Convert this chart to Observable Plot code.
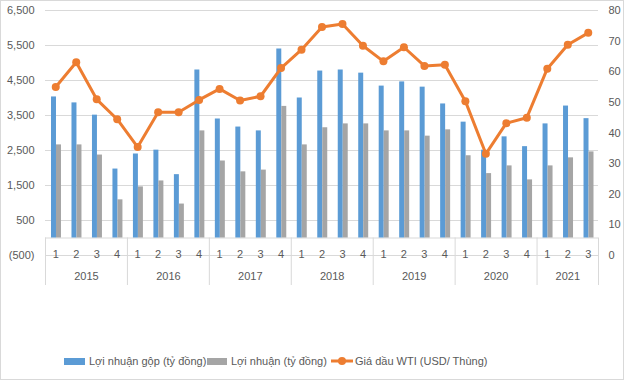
<!DOCTYPE html>
<html><head><meta charset="utf-8">
<script src="https://cdn.jsdelivr.net/npm/d3@7"></script>
<script src="https://cdn.jsdelivr.net/npm/@observablehq/plot@0.6"></script>
<style>
html,body{margin:0;padding:0;background:#fff;}
#wrap{position:relative;width:624px;height:380px;font-family:"Liberation Sans",Arial,sans-serif;color:#595959;overflow:hidden;}
#frame{position:absolute;left:0;top:0;width:622px;height:378px;border:1px solid #d9d9d9;pointer-events:none;}
#legend{position:absolute;left:0;top:352px;width:624px;height:18px;font-size:11px;}
.item{position:absolute;top:0;height:18px;display:flex;align-items:center;white-space:nowrap;}
.sw{display:inline-block;height:7px;margin-right:4px;}
</style></head>
<body><div id="wrap"><div id="chart"></div><div id="legend"></div><div id="frame"></div></div>
<script>
const years = ["2015","2016","2017","2018","2019","2020","2021"];
const quartersPerYear = [4,4,4,4,4,4,3];
const grossProfit = [4030,3860,3510,1970, 2400,2510,1810,4800, 3400,3170,3060,5400, 4000,4770,4800,4710, 4340,4460,4310,3830, 3310,2510,2890,2610, 3260,3770,3410];
const netProfit   = [2660,2660,2370,1090, 1460,1630,970,3060, 2200,1890,1940,3760, 2660,3150,3260,3260, 3060,3060,2910,3090, 2350,1840,2060,1660, 2060,2290,2460];
const wtiPrice    = [55.0,63.1,51.0,44.5, 35.4,46.8,46.8,50.8, 54.4,50.6,52.0,61.2, 67.2,74.6,75.6,68.5, 63.4,68.0,61.9,62.3, 50.4,33.2,43.2,45.0, 61.0,68.8,72.7];
const leftTicks  = [-500,500,1500,2500,3500,4500,5500,6500];
const rightTicks = [0,10,20,30,40,50,60,70,80];
const seriesNames = ["Lợi nhuận gộp (tỷ đồng)","Lợi nhuận (tỷ đồng)","Giá dầu WTI (USD/ Thùng)"];
const colors = ["#5B9BD5","#A5A5A5","#ED7D31"];

// rows
const rows = [];
let idx = 0;
years.forEach((y, yi) => {
  for (let q = 1; q <= quartersPerYear[yi]; q++) {
    rows.push({i: idx, year: y, q: String(q), gross: grossProfit[idx], net: netProfit[idx], wti: wtiPrice[idx]});
    idx++;
  }
});
const yearRows = years.map(y => {
  const r = rows.filter(d => d.year === y);
  return {year: y, first: r[0].i, last: r[r.length-1].i, mid: (r[0].i + r[r.length-1].i) / 2};
});
const seps = yearRows.map(d => d.first - 0.5).concat([rows.length - 0.5]);

const yMin = -500, yMax = 6500, rMax = 80;
const toLeft = v => yMin + v * (yMax - yMin) / rMax;
const fmtLeft = d => d < 0 ? "(" + d3.format(",")(-d) + ")" : d3.format(",")(d);

const chart = Plot.plot({
  width: 624, height: 340,
  marginTop: 10, marginBottom: 85, marginLeft: 45, marginRight: 26,
  style: {fontFamily: '"Liberation Sans", Arial, sans-serif', fontSize: "11px", color: "#595959", background: "transparent"},
  x: {domain: [-0.5, rows.length - 0.5], axis: null},
  y: {domain: [yMin, yMax], axis: null},
  marks: [
    Plot.ruleY(leftTicks, {stroke: "#d9d9d9", strokeWidth: 1}),
    Plot.ruleY([0], {stroke: "#d9d9d9", strokeWidth: 1}),
    Plot.ruleX(seps, {x: d => d, y1: 0, y2: yMin, insetBottom: -30, stroke: "#d9d9d9"}),
    Plot.rectY(rows, {x1: d => d.i - 0.5, x2: d => d.i + 0.5, y1: 0, y2: "gross", fill: colors[0], insetLeft: 6, insetRight: 9.5}),
    Plot.rectY(rows, {x1: d => d.i - 0.5, x2: d => d.i + 0.5, y1: 0, y2: "net", fill: colors[1], insetLeft: 11, insetRight: 4.5}),
    Plot.line(rows, {x: "i", y: d => toLeft(d.wti), stroke: colors[2], strokeWidth: 3, strokeLinejoin: "round"}),
    Plot.dot(rows, {x: "i", y: d => toLeft(d.wti), r: 4, fill: colors[2], stroke: "none"}),
    Plot.text(rows, {x: "i", y: yMin, text: "q", dy: -1, fill: "#595959"}),
    Plot.text(yearRows, {x: "mid", y: yMin, text: "year", dy: 21, fill: "#595959"}),
    Plot.axisY(leftTicks, {anchor: "left", tickFormat: fmtLeft, tickSize: 0, tickPadding: 11, label: null}),
    Plot.axisY(rightTicks.map(toLeft), {anchor: "right", tickFormat: d => String(Math.round((d - yMin) * rMax / (yMax - yMin))), tickSize: 0, tickPadding: 10, label: null})
  ]
});
document.getElementById("chart").appendChild(chart);

// legend
const legend = document.getElementById("legend");
const lx = [64, 207, 331];
seriesNames.forEach((name, k) => {
  const it = document.createElement("div");
  it.className = "item";
  it.style.left = lx[k] + "px";
  if (k < 2) {
    const sw = document.createElement("span");
    sw.className = "sw";
    sw.style.width = (k === 0 ? 21 : 20) + "px";
    sw.style.background = colors[k];
    it.appendChild(sw);
  } else {
    const sw = document.createElementNS("http://www.w3.org/2000/svg", "svg");
    sw.setAttribute("width", 22); sw.setAttribute("height", 10);
    sw.style.marginRight = "2px";
    sw.innerHTML = `<line x1="0" y1="5" x2="22" y2="5" stroke="${colors[2]}" stroke-width="3"/><circle cx="11" cy="5" r="4" fill="${colors[2]}"/>`;
    it.appendChild(sw);
  }
  const t = document.createElement("span");
  t.textContent = name;
  it.appendChild(t);
  legend.appendChild(it);
});
</script></body></html>
